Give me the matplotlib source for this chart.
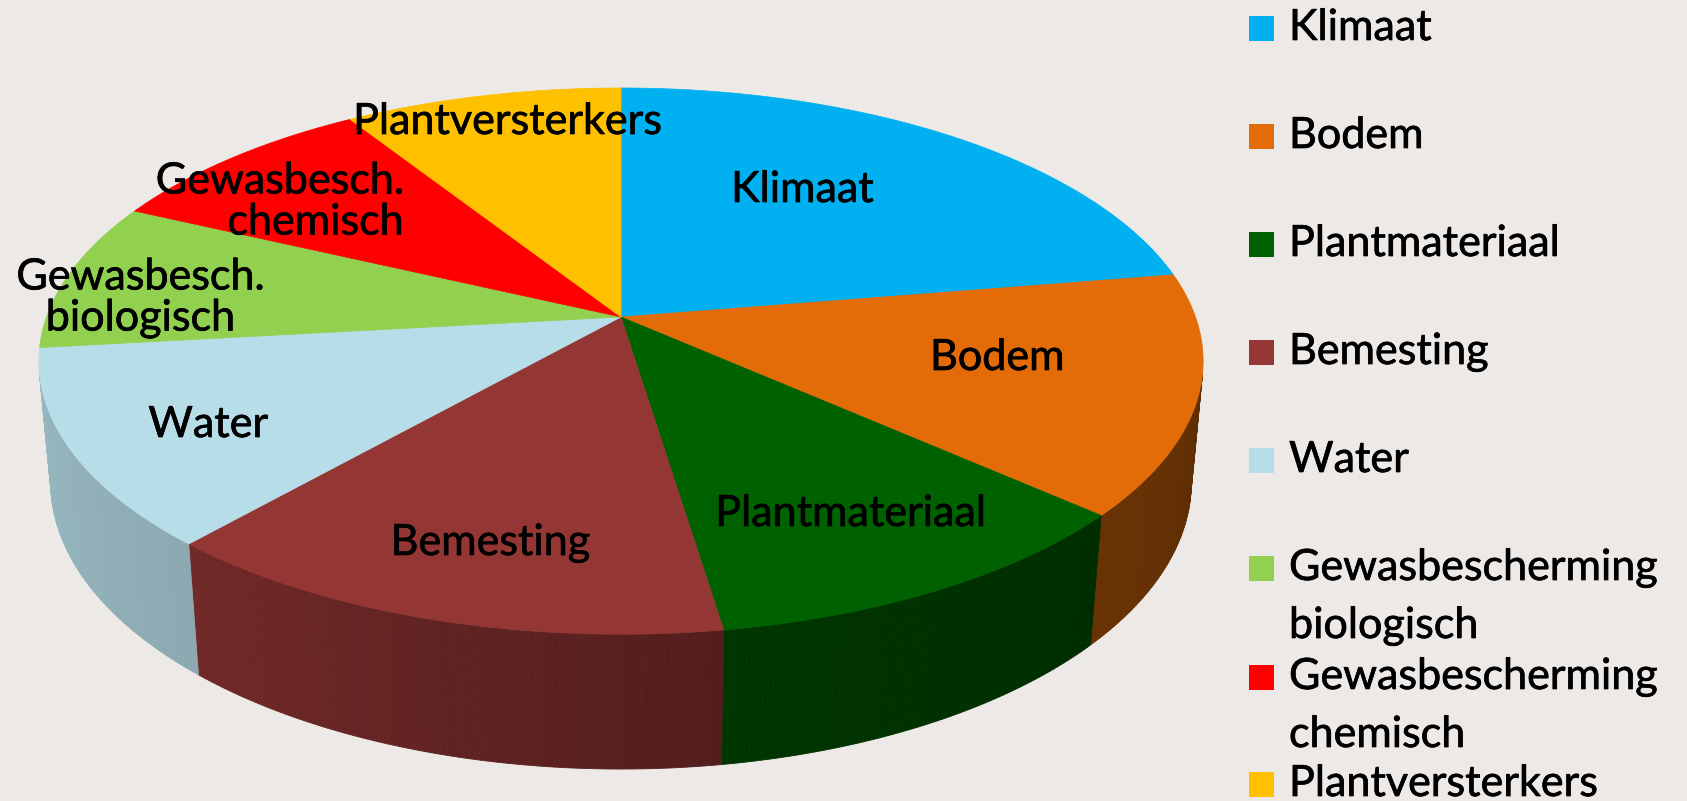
import numpy as np
import matplotlib.pyplot as plt
import matplotlib.patheffects as pe
from matplotlib.patches import Polygon

plt.rcParams['font.family'] = ['Lato', 'DejaVu Sans']

# data
categories = ["Klimaat", "Bodem", "Plantmateriaal", "Bemesting", "Water",
              "Gewasbescherming biologisch", "Gewasbescherming chemisch",
              "Plantversterkers"]
shares = [22.4, 14.2, 11.0, 13.9, 11.7, 8.8, 9.0, 9.0]
slice_labels = ["Klimaat", "Bodem", "Plantmateriaal", "Bemesting", "Water",
                "Gewasbesch.\nbiologisch", "Gewasbesch.\nchemisch",
                "Plantversterkers"]
legend_labels = ["Klimaat", "Bodem", "Plantmateriaal", "Bemesting", "Water",
                 "Gewasbescherming\nbiologisch", "Gewasbescherming\nchemisch",
                 "Plantversterkers"]
colors = ["#00B0F0", "#E36C09", "#006100", "#943634", "#B7DEE8",
          "#92D050", "#FF0000", "#FFC000"]

# ---- 3d projection of a flat disc (perspective, seen from above) ----
W, H = 1687, 801
CX, CY = 621, 317          # projected centre of the disc
F = 3154.0                 # focal length in px
DIST = 5.49                # camera distance (disc radius = 1)
elev = np.arcsin(0.463)
se, ce = np.sin(elev), np.cos(elev)
THICK = 0.24


def proj(x, y, z):
    d = DIST + y * ce - z * se
    u = F * x / d
    v = F * (z * ce + y * se) / d
    return CX + u, CY - v


def shade(t_deg):
    # side gets darker towards the right
    return np.interp(t_deg, [-180, -130, -80, -40, 0],
                     [0.85, 0.76, 0.55, 0.46, 0.40])


def darker(c, f):
    rgb = np.array(plt.matplotlib.colors.to_rgb(c))
    return tuple(rgb * f)


fig = plt.figure(figsize=(W / 100, H / 100), dpi=100)
fig.patch.set_facecolor("#ECE9E7")
ax = fig.add_axes([0, 0, 1, 1])
ax.set_xlim(0, W)
ax.set_ylim(H, 0)
ax.axis("off")

total = float(sum(shares))
bounds = 90 - np.concatenate([[0], np.cumsum(shares)]) / total * 360.0

# side walls (only the part facing the camera)
vis_lo, vis_hi = -168.0, -12.0
for i in range(len(shares)):
    a0, a1 = bounds[i + 1], bounds[i]       # a0 < a1
    lo, hi = max(a0, vis_lo), min(a1, vis_hi)
    if lo >= hi:
        continue
    ts = np.linspace(lo, hi, int((hi - lo) * 2) + 2)
    for k in range(len(ts) - 1):
        t0, t1 = np.radians(ts[k]), np.radians(ts[k + 1])
        pts = [proj(np.cos(t0), np.sin(t0), 0), proj(np.cos(t1), np.sin(t1), 0),
               proj(np.cos(t1), np.sin(t1), -THICK), proj(np.cos(t0), np.sin(t0), -THICK)]
        col = darker(colors[i], shade((ts[k] + ts[k + 1]) / 2))
        ax.add_patch(Polygon(pts, closed=True, facecolor=col, edgecolor=col,
                             linewidth=0.6, zorder=1))

# top faces
for i in range(len(shares)):
    ts = np.radians(np.linspace(bounds[i], bounds[i + 1], 200))
    pts = [(CX, CY)] + [proj(np.cos(t), np.sin(t), 0) for t in ts]
    ax.add_patch(Polygon(pts, closed=True, facecolor=colors[i],
                         edgecolor=colors[i], linewidth=0.5, zorder=2))

# text a bit heavier, like Calibri
heavy = [pe.withStroke(linewidth=0.5, foreground="black")]
fs = 31

# slice labels (x, y, alignment)
label_pos = [(802, 190, "center"), (997, 358, "center"), (850, 514, "center"),
             (490, 543, "center"), (208, 425, "center"), (140, 298, "center"),
             (403, 202, "right"), (507, 122, "center")]
for lab, (x, y, ha) in zip(slice_labels, label_pos):
    ax.text(x, y, lab, ha=ha, va="center", multialignment=ha, fontsize=fs,
            color="black", linespacing=1.1, zorder=3, path_effects=heavy)

# legend
leg_rows = [28, 136, 244, 352, 460, 568, 677, 784]
for lab, col, y in zip(legend_labels, colors, leg_rows):
    ax.add_patch(plt.Rectangle((1249, y - 12.5), 25, 25, facecolor=col,
                               edgecolor="none", zorder=3))
    lines = lab.split("\n")
    for j, ln in enumerate(lines):
        ax.text(1289, y + j * 58, ln, ha="left", va="center", fontsize=fs,
                color="black", zorder=3, path_effects=heavy)

fig.savefig("out.png", dpi=100, facecolor=fig.get_facecolor())
